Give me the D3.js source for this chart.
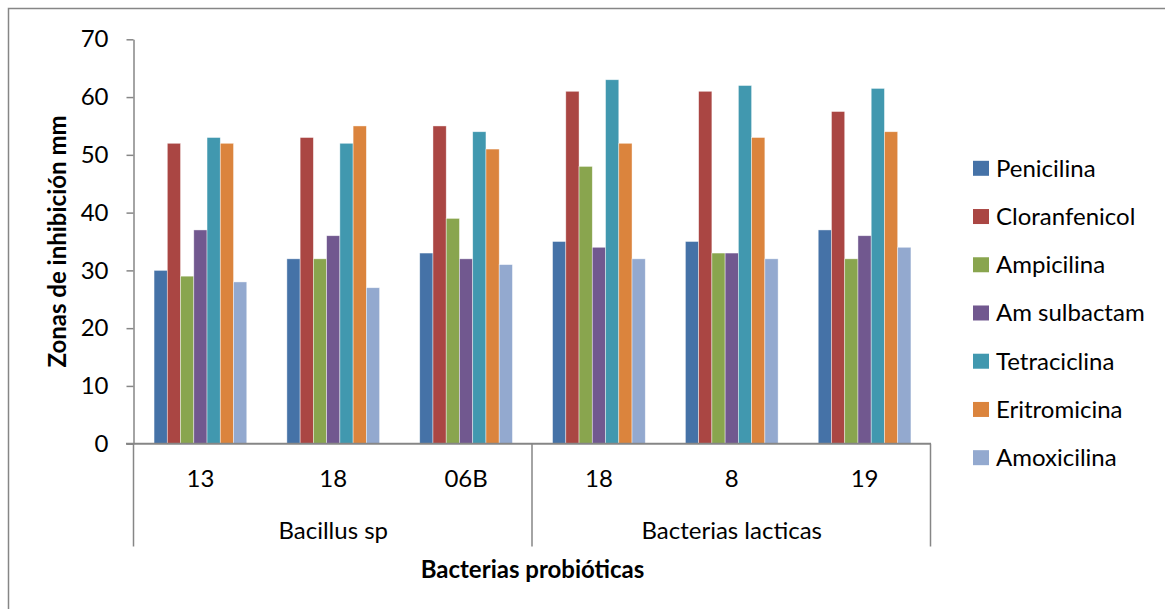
<!DOCTYPE html>
<html>
<head>
<meta charset="utf-8">
<script src="https://cdn.jsdelivr.net/npm/d3@7"></script>
<style>
  body { margin: 0; background: #fff; }
  svg { font-family: Lato, "Open Sans", sans-serif; }
</style>
</head>
<body>
<script>
// strains on the x axis and the group each one belongs to
var strains = ["13", "18", "06B", "18", "8", "19"];
var strainGroup = [0, 0, 0, 1, 1, 1];
var groups = ["Bacillus sp", "Bacterias lacticas"];

var antibiotics = ["Penicilina", "Cloranfenicol", "Ampicilina", "Am sulbactam",
                   "Tetraciclina", "Eritromicina", "Amoxicilina"];

// inhibition zones (mm), one array per antibiotic, in strain order
var penicilina    = [30, 32, 33, 35, 35, 37];
var cloranfenicol = [52, 53, 55, 61, 61, 57.5];
var ampicilina    = [29, 32, 39, 48, 33, 32];
var amSulbactam   = [37, 36, 32, 34, 33, 36];
var tetraciclina  = [53, 52, 54, 63, 62, 61.5];
var eritromicina  = [52, 55, 51, 52, 53, 54];
var amoxicilina   = [28, 27, 31, 32, 32, 34];

var yTicks = [0, 10, 20, 30, 40, 50, 60, 70];

var colors = ["#4572A7", "#AA4643", "#89A54E", "#71588F", "#4198AF", "#DB843D", "#93A9CF"];

var seriesValues = [penicilina, cloranfenicol, ampicilina, amSulbactam,
                    tetraciclina, eritromicina, amoxicilina];

var width = 1165, height = 609;
var plotLeft = 134, plotRight = 931, plotTop = 39.3, plotBottom = 443.7;
var axisGray = "#868686";
var labelSize = 24;

var svg = d3.select("body").append("svg")
    .attr("width", width)
    .attr("height", height);

// chart border
svg.append("rect")
    .attr("x", 8.5).attr("y", 8.5)
    .attr("width", width + 20).attr("height", height + 20)
    .attr("fill", "none")
    .attr("stroke", axisGray)
    .attr("stroke-width", 1.5);

var x = d3.scaleBand()
    .domain(d3.range(strains.length))
    .range([plotLeft, plotRight]);

var xs = d3.scaleBand()
    .domain(antibiotics)
    .range([x.bandwidth() * 0.151, x.bandwidth() * 0.849]);

var y = d3.scaleLinear()
    .domain([0, 70])
    .range([plotBottom, plotTop]);

// bars
var cat = svg.selectAll(".cat")
    .data(d3.range(strains.length))
    .enter().append("g")
    .attr("class", "cat")
    .attr("transform", function(i) { return "translate(" + x(i) + ",0)"; });

cat.selectAll("rect")
    .data(function(i) {
      return antibiotics.map(function(name, s) { return {name: name, s: s, value: seriesValues[s][i]}; });
    })
    .enter().append("rect")
    .attr("x", function(d) { return xs(d.name); })
    .attr("width", xs.bandwidth())
    .attr("y", function(d) { return y(d.value); })
    .attr("height", function(d) { return y(0) - y(d.value); })
    .attr("fill", function(d) { return colors[d.s]; })
    .attr("stroke", "#fff")
    .attr("stroke-opacity", 0.6)
    .attr("stroke-width", 0.7);

// y axis
var yAxis = svg.append("g")
    .attr("transform", "translate(" + (plotLeft - 0.5) + ",0)")
    .call(d3.axisLeft(y).tickValues(yTicks).tickSize(7).tickSizeOuter(0).tickPadding(18));
yAxis.select(".domain").attr("stroke", axisGray).attr("stroke-width", 1.5);
yAxis.selectAll(".tick line").attr("stroke", axisGray).attr("stroke-width", 1.5);
yAxis.selectAll(".tick text")
    .attr("font-family", "Lato, sans-serif")
    .attr("font-size", labelSize)
    .attr("fill", "#000");

// x axis line
svg.append("line")
    .attr("x1", plotLeft - 8).attr("x2", plotRight)
    .attr("y1", y(0)).attr("y2", y(0))
    .attr("stroke", axisGray).attr("stroke-width", 2);

// group separators
var edges = [0, 3, 6];
svg.selectAll(".sep")
    .data(edges)
    .enter().append("line")
    .attr("class", "sep")
    .attr("x1", function(i) { return (i < strains.length ? x(i) : plotRight) - 0.5; })
    .attr("x2", function(i) { return (i < strains.length ? x(i) : plotRight) - 0.5; })
    .attr("y1", y(0)).attr("y2", 546.5)
    .attr("stroke", axisGray).attr("stroke-width", 1.5);

// strain labels
svg.selectAll(".strain")
    .data(strains)
    .enter().append("text")
    .attr("class", "strain")
    .attr("x", function(d, i) { return x(i) + x.bandwidth() / 2; })
    .attr("y", 479)
    .attr("dy", "0.35em")
    .attr("text-anchor", "middle")
    .attr("font-size", labelSize)
    .text(function(d) { return d; });

// group labels
svg.selectAll(".group")
    .data(groups)
    .enter().append("text")
    .attr("class", "group")
    .attr("x", function(d, g) {
      var idx = d3.range(strains.length).filter(function(i) { return strainGroup[i] === g; });
      return (x(idx[0]) + x(idx[idx.length - 1]) + x.bandwidth()) / 2;
    })
    .attr("y", 530.5)
    .attr("dy", "0.35em")
    .attr("text-anchor", "middle")
    .attr("font-size", labelSize)
    .text(function(d) { return d; });

// axis titles
svg.append("text")
    .attr("x", (plotLeft + plotRight) / 2)
    .attr("y", 570)
    .attr("dy", "0.35em")
    .attr("text-anchor", "middle")
    .attr("font-size", 24)
    .attr("font-weight", "bold")
    .text("Bacterias probióticas");

svg.append("text")
    .attr("transform", "translate(66," + ((plotTop + plotBottom) / 2) + ") rotate(-90)")
    .attr("text-anchor", "middle")
    .attr("font-size", 24)
    .attr("font-weight", "bold")
    .text("Zonas de inhibición mm");

// legend
var legend = svg.selectAll(".legend")
    .data(antibiotics)
    .enter().append("g")
    .attr("class", "legend")
    .attr("transform", function(d, i) { return "translate(973," + (168.3 + i * 48.23) + ")"; });

legend.append("rect")
    .attr("x", 0).attr("y", -7.5)
    .attr("width", 16).attr("height", 15)
    .attr("fill", function(d, i) { return colors[i]; });

legend.append("text")
    .attr("x", 23)
    .attr("dy", "0.35em")
    .attr("font-size", labelSize)
    .text(function(d) { return d; });
</script>
</body>
</html>
